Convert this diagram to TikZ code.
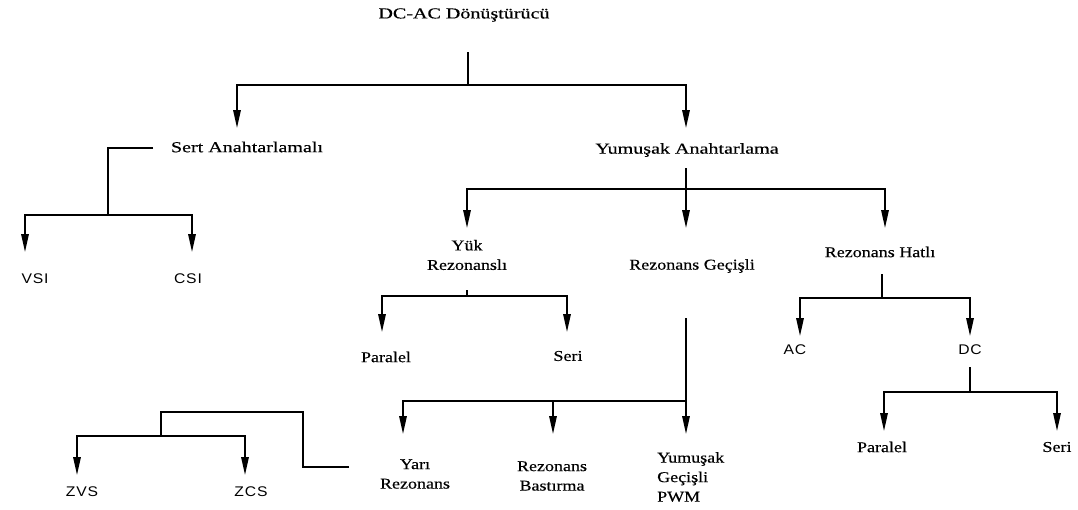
\documentclass[tikz,border=0pt]{standalone}
\usepackage{fontspec}
\setmainfont{Liberation Serif}
\newfontfamily\lblfont{Liberation Serif}[FakeStretch=1.32,FakeBold=0.4]
\newfontfamily\subfont{Liberation Serif}[FakeStretch=1.2,FakeBold=0.4]
\newfontfamily\sansfont{Liberation Sans}[FakeStretch=1.12,LetterSpace=6]
\usetikzlibrary{arrows.meta}
\tikzset{
  lbl/.style={inner sep=0pt, font=\lblfont\fontsize{15.2}{18}\selectfont, align=center},
  sub/.style={inner sep=0pt, font=\subfont\fontsize{15}{19.5}\selectfont, align=center},
  subl/.style={inner sep=0pt, font=\subfont\fontsize{15}{19.5}\selectfont, align=left},
  sans/.style={inner sep=0pt, font=\sansfont\fontsize{14}{15}\selectfont},
  conn/.style={line width=1.6pt},
  arr/.style={conn, -{Triangle[length=18pt,width=7.5pt]}}
}
\begin{document}
\begin{tikzpicture}[x=1pt,y=-1pt]
\useasboundingbox (0,0) rectangle (1078,509);
% nodes
\node[lbl] (root) at (464,15) {DC-AC Dönüştürücü};
\node[lbl] (sert) at (247,147) {Sert Anahtarlamalı};
\node[lbl] (yum) at (687,150) {Yumuşak Anahtarlama};
\node[sans] (vsi) at (35,279) {VSI};
\node[sans] (csi) at (188,279) {CSI};
\node[sub] (yuk) at (467,255) {Yük\\Rezonanslı};
\node[sub] (rgec) at (692,266) {Rezonans Geçişli};
\node[sub] (rhat) at (880,252) {Rezonans Hatlı};
\node[sub] (par1) at (386,357) {Paralel};
\node[sub] (ser1) at (568,356) {Seri};
\node[sub] (yari) at (415,474) {Yarı\\Rezonans};
\node[sub] (bast) at (552,476) {Rezonans\\Bastırma};
\node[subl, anchor=west] (pwm) at (657,477) {Yumuşak\\Geçişli\\PWM};
\node[sans] (ac) at (795,350) {AC};
\node[sans] (dc) at (970,350) {DC};
\node[sub] (par2) at (882,447) {Paralel};
\node[sub] (ser2) at (1057,447) {Seri};
\node[sans] (zvs) at (82,492) {ZVS};
\node[sans] (zcs) at (251,492) {ZCS};
% junction coordinates
\coordinate (s0) at (468,52);
\coordinate (j0) at (468,85);
\coordinate (tsert) at (237,128);
\coordinate (tyum) at (686,128);
\coordinate (s1) at (153,148);
\coordinate (k1) at (108,148);
\coordinate (j1) at (108,215);
\coordinate (tvsi) at (25,252);
\coordinate (tcsi) at (192,252);
\coordinate (s2) at (686,168);
\coordinate (j2) at (686,189);
\coordinate (tyuk) at (467,228);
\coordinate (trgec) at (686,228);
\coordinate (trhat) at (885,228);
\coordinate (s3) at (467,290);
\coordinate (j3) at (467,296);
\coordinate (tpar1) at (382,332);
\coordinate (tser1) at (567,332);
\coordinate (s4) at (686,318);
\coordinate (j4) at (686,401);
\coordinate (tyari) at (403,434);
\coordinate (tbast) at (553,434);
\coordinate (tpwm) at (686,434);
\coordinate (s5) at (882,274);
\coordinate (j5) at (882,298);
\coordinate (tac) at (800,336);
\coordinate (tdc) at (970,336);
\coordinate (s6) at (970,367);
\coordinate (j6) at (970,392);
\coordinate (tpar2) at (884,431);
\coordinate (tser2) at (1057,431);
\coordinate (s7) at (349,467);
\coordinate (k7a) at (303,467);
\coordinate (k7b) at (303,412);
\coordinate (k7c) at (161,412);
\coordinate (j7) at (161,436);
\coordinate (tzvs) at (77,475);
\coordinate (tzcs) at (245,475);
% connectors
\draw[conn] (s0) -- (j0);
\draw[arr] (j0) -| (tsert);
\draw[arr] (j0) -| (tyum);
\draw[conn] (s1) -- (k1) -- (j1);
\draw[arr] (j1) -| (tvsi);
\draw[arr] (j1) -| (tcsi);
\draw[conn] (s2) -- (j2);
\draw[arr] (j2) -| (tyuk);
\draw[arr] (j2) -- (trgec);
\draw[arr] (j2) -| (trhat);
\draw[conn] (s3) -- (j3);
\draw[arr] (j3) -| (tpar1);
\draw[arr] (j3) -| (tser1);
\draw[conn] (s4) -- (j4);
\draw[arr] (j4) -| (tyari);
\draw[arr] (tbast |- j4) -- (tbast);
\draw[arr] (j4) -- (tpwm);
\draw[conn] (s5) -- (j5);
\draw[arr] (j5) -| (tac);
\draw[arr] (j5) -| (tdc);
\draw[conn] (s6) -- (j6);
\draw[arr] (j6) -| (tpar2);
\draw[arr] (j6) -| (tser2);
\draw[conn] (s7) -- (k7a) -- (k7b) -- (k7c) -- (j7);
\draw[arr] (j7) -| (tzvs);
\draw[arr] (j7) -| (tzcs);
\end{tikzpicture}
\end{document}
